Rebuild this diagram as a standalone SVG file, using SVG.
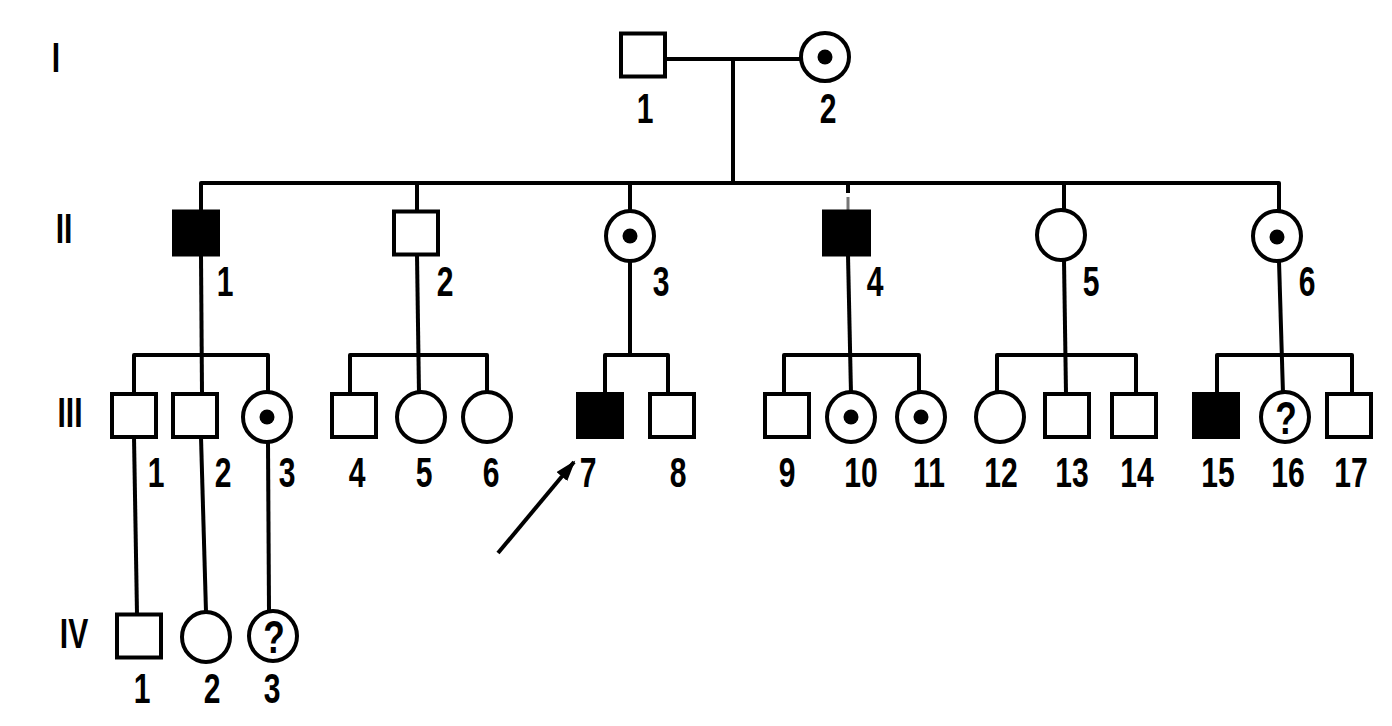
<svg xmlns="http://www.w3.org/2000/svg" width="1392" height="726" viewBox="0 0 1392 726">
<style>
.ln{stroke:#000;stroke-width:4;fill:none;stroke-linejoin:round}
.sq{fill:#fff;stroke:#000;stroke-width:4}
.af{fill:#000;stroke:#000;stroke-width:4}
.ci{fill:#fff;stroke:#000;stroke-width:4}
.dot{fill:#000}
.lb{font-family:"Liberation Sans",Arial,sans-serif;font-weight:bold;font-size:43px;text-anchor:middle;fill:#000}
.q{font-family:"Liberation Sans",Arial,sans-serif;font-weight:bold;font-size:47px;text-anchor:middle;fill:#000}
</style>
<defs>
<marker id="ah" markerUnits="userSpaceOnUse" markerWidth="22" markerHeight="14" refX="19" refY="7" orient="auto">
<path d="M0,0 L21,7 L0,14 z" fill="#000"/>
</marker>
</defs>
<rect width="1392" height="726" fill="#fff"/>
<g id="generations">
<text class="lb" transform="translate(56,72) scale(0.7,1)">I</text>
<text class="lb" transform="translate(64,243) scale(0.7,1)">II</text>
<text class="lb" transform="translate(70,427) scale(0.7,1)">III</text>
<text class="lb" transform="translate(74,648) scale(0.7,1)">IV</text>
</g>
<g id="connectors">
<path class="ln" d="M665,59 H801"/>
<path class="ln" d="M733,59 V183"/>
<path class="ln" d="M201,211 V183 H1279 V211"/>
<path class="ln" d="M417,183 V211"/>
<path class="ln" d="M630,183 V211"/>
<path class="ln" d="M848,183 V193"/>
<path d="M848,197 V210" stroke="#777" stroke-width="3"/>
<path class="ln" d="M1064,183 V211"/>
<path class="ln" d="M201,255 L202,394"/>
<path class="ln" d="M417,255 L419,394"/>
<path class="ln" d="M630,261 V355"/>
<path class="ln" d="M848,255 L851,394"/>
<path class="ln" d="M1064,260 L1066,394"/>
<path class="ln" d="M1279,261 L1283,394"/>
<path class="ln" d="M134,394 V355 H268 V394"/>
<path class="ln" d="M350,394 V355 H487 V394"/>
<path class="ln" d="M605,394 V355 H668 V394"/>
<path class="ln" d="M784,394 V355 H919 V394"/>
<path class="ln" d="M997,394 V355 H1136 V394"/>
<path class="ln" d="M1217,394 V355 H1352 V394"/>
<path class="ln" d="M134,437 L137,614"/>
<path class="ln" d="M201,437 L206,612"/>
<path class="ln" d="M268,442 L269,611"/>
<path class="ln" d="M498,553 L574,462" marker-end="url(#ah)"/>
</g>
<g id="I-1"><rect class="sq" x="621" y="33.5" width="44" height="43"/><text class="lb" transform="translate(645,123) scale(0.7,1)">1</text></g>
<g id="I-2"><ellipse class="ci" cx="825" cy="57" rx="24" ry="24"/><circle class="dot" cx="825" cy="57" r="7.5"/><text class="lb" transform="translate(828,123) scale(0.7,1)">2</text></g>
<g id="II-1"><rect class="af" x="174" y="211.5" width="44" height="43"/><text class="lb" transform="translate(225,296) scale(0.7,1)">1</text></g>
<g id="II-2"><rect class="sq" x="394" y="211.5" width="44" height="43"/><text class="lb" transform="translate(445,296) scale(0.7,1)">2</text></g>
<g id="II-3"><ellipse class="ci" cx="630" cy="236" rx="24" ry="25"/><circle class="dot" cx="630" cy="236" r="7.5"/><text class="lb" transform="translate(661,296) scale(0.7,1)">3</text></g>
<g id="II-4"><rect class="af" x="824" y="211.5" width="45" height="43"/><text class="lb" transform="translate(875,296) scale(0.7,1)">4</text></g>
<g id="II-5"><ellipse class="ci" cx="1061" cy="235" rx="24" ry="25"/><text class="lb" transform="translate(1091,296) scale(0.7,1)">5</text></g>
<g id="II-6"><ellipse class="ci" cx="1277" cy="236" rx="24" ry="25"/><circle class="dot" cx="1277" cy="237" r="7.5"/><text class="lb" transform="translate(1307,296) scale(0.7,1)">6</text></g>
<g id="III-1"><rect class="sq" x="112" y="394" width="44" height="43"/><text class="lb" transform="translate(156,487) scale(0.7,1)">1</text></g>
<g id="III-2"><rect class="sq" x="173" y="394" width="44" height="43"/><text class="lb" transform="translate(223,487) scale(0.7,1)">2</text></g>
<g id="III-3"><ellipse class="ci" cx="267" cy="417" rx="24" ry="25"/><circle class="dot" cx="267" cy="417" r="7.5"/><text class="lb" transform="translate(287,487) scale(0.7,1)">3</text></g>
<g id="III-4"><rect class="sq" x="332" y="394" width="44" height="43"/><text class="lb" transform="translate(357,487) scale(0.7,1)">4</text></g>
<g id="III-5"><ellipse class="ci" cx="421" cy="417" rx="24" ry="25"/><text class="lb" transform="translate(424,487) scale(0.7,1)">5</text></g>
<g id="III-6"><ellipse class="ci" cx="487" cy="417" rx="24" ry="25"/><text class="lb" transform="translate(491,487) scale(0.7,1)">6</text></g>
<g id="III-7"><rect class="af" x="578" y="394" width="44" height="43"/><text class="lb" transform="translate(588,487) scale(0.7,1)">7</text></g>
<g id="III-8"><rect class="sq" x="650" y="394" width="44" height="43"/><text class="lb" transform="translate(678,487) scale(0.7,1)">8</text></g>
<g id="III-9"><rect class="sq" x="765" y="394" width="44" height="43"/><text class="lb" transform="translate(787,487) scale(0.7,1)">9</text></g>
<g id="III-10"><ellipse class="ci" cx="851" cy="417" rx="24" ry="25"/><circle class="dot" cx="851" cy="417" r="7.5"/><text class="lb" transform="translate(861,487) scale(0.7,1)">10</text></g>
<g id="III-11"><ellipse class="ci" cx="921" cy="417" rx="24" ry="25"/><circle class="dot" cx="921" cy="417" r="7.5"/><text class="lb" transform="translate(929,487) scale(0.7,1)">11</text></g>
<g id="III-12"><ellipse class="ci" cx="1000" cy="417" rx="24" ry="25"/><text class="lb" transform="translate(1001,487) scale(0.7,1)">12</text></g>
<g id="III-13"><rect class="sq" x="1045" y="394" width="44" height="43"/><text class="lb" transform="translate(1072,487) scale(0.7,1)">13</text></g>
<g id="III-14"><rect class="sq" x="1112" y="394" width="44" height="43"/><text class="lb" transform="translate(1137,487) scale(0.7,1)">14</text></g>
<g id="III-15"><rect class="af" x="1194" y="394" width="44" height="43"/><text class="lb" transform="translate(1218,487) scale(0.7,1)">15</text></g>
<g id="III-16"><ellipse class="ci" cx="1285" cy="417" rx="24" ry="25"/><text class="q" transform="translate(1286,434) scale(0.75,1)">?</text><text class="lb" transform="translate(1288,487) scale(0.7,1)">16</text></g>
<g id="III-17"><rect class="sq" x="1327" y="394" width="44" height="43"/><text class="lb" transform="translate(1351,487) scale(0.7,1)">17</text></g>
<g id="IV-1"><rect class="sq" x="117" y="614.5" width="44" height="43"/><text class="lb" transform="translate(142,703) scale(0.7,1)">1</text></g>
<g id="IV-2"><ellipse class="ci" cx="206" cy="637" rx="24" ry="25"/><text class="lb" transform="translate(212,703) scale(0.7,1)">2</text></g>
<g id="IV-3"><ellipse class="ci" cx="273" cy="636" rx="24" ry="25"/><text class="q" transform="translate(274,653) scale(0.75,1)">?</text><text class="lb" transform="translate(272,703) scale(0.7,1)">3</text></g>
</svg>
